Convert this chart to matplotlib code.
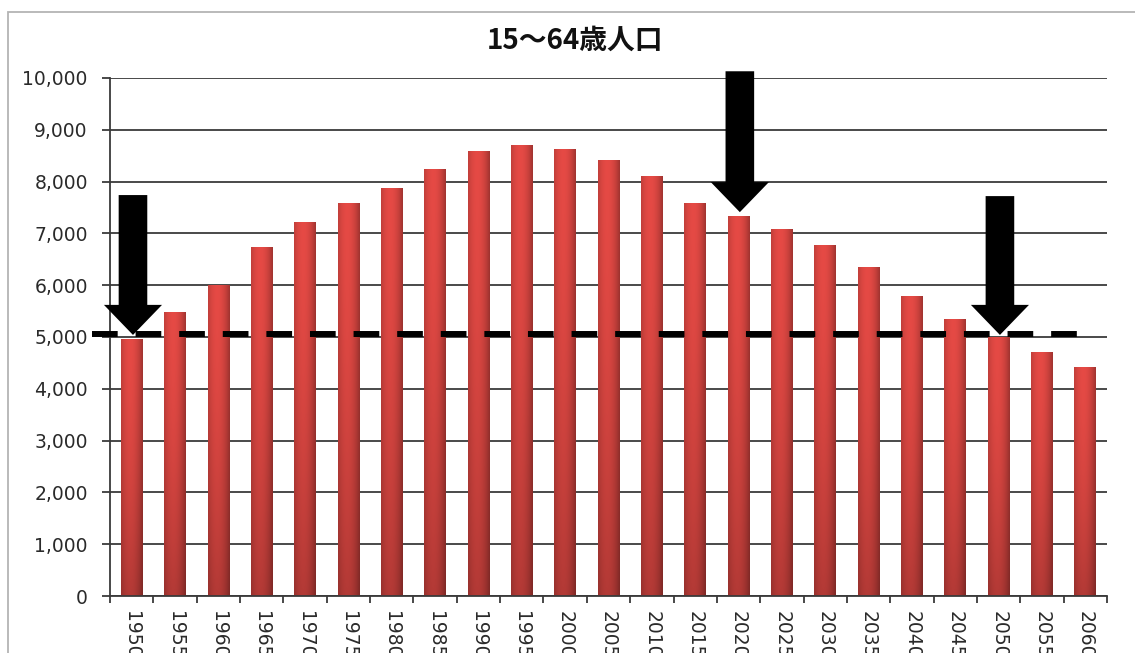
import numpy as np
import matplotlib
matplotlib.use("Agg")
import matplotlib.pyplot as plt
from matplotlib.patches import FancyArrow, Rectangle

# ---- data ----
years = ["1950", "1955", "1960", "1965", "1970", "1975", "1980", "1985", "1990",
         "1995", "2000", "2005", "2010", "2015", "2020", "2025", "2030", "2035",
         "2040", "2045", "2050", "2055", "2060"]
population = [4966, 5473, 6000, 6744, 7212, 7581, 7883, 8251, 8590, 8716, 8622,
              8409, 8103, 7592, 7341, 7084, 6773, 6343, 5787, 5353, 5001, 4706, 4418]
reference_level = 5050
title = "15～64歳人口"
y_ticks = [0, 1000, 2000, 3000, 4000, 5000, 6000, 7000, 8000, 9000, 10000]
# arrows: (category index, tail value, tip value)
arrows = [(0, 7740, 5040), (14, 10130, 7410), (20, 7720, 5040)]

W, H = 1135, 653
fig = plt.figure(figsize=(W / 100, H / 100), dpi=100)
fig.patch.set_facecolor("white")

# outer gray border of the chart area
fig.add_artist(Rectangle((8 / W, -0.05), 1.2, 1 - 12 / H + 0.05,
                         transform=fig.transFigure, fill=False,
                         edgecolor="#b4b4b4", lw=1.3))

ax = fig.add_axes([110 / W, 1 - 596 / H, (1107 - 110) / W, (596 - 78) / H])
x = np.arange(len(years))

# bars with cylinder-like shading
bars = ax.bar(x, population, width=0.5, color="#d8403d", edgecolor="none", zorder=2)
nx, ny = 40, 80
t = np.linspace(0, 1, nx)
horiz = 1 - 0.30 * (np.abs(t - 0.42) / 0.58) ** 2
s = np.linspace(0, 1, ny)
vert = (1 - 0.22 * s ** 1.6)[:, None]
top_col = np.array([0.90, 0.29, 0.27])
grad = (top_col[None, None, :] * horiz[None, :, None] * vert[:, :, None])
grad = np.clip(grad, 0, 1)
for b in bars:
    x0, w, h = b.get_x(), b.get_width(), b.get_height()
    im = ax.imshow(grad, extent=[x0, x0 + w, 0, h], aspect="auto",
                   origin="upper", zorder=2.1, interpolation="bilinear")
    im.set_clip_path(b)

ax.set_xlim(-0.5, len(years) - 0.5)
ax.set_ylim(0, 10000)
ax.set_aspect("auto")

tick_font = dict(fontfamily="DejaVu Sans", fontsize=13.5, color="#2a2a2a")

# grid & spines
ax.set_yticks(y_ticks)
ax.set_yticklabels([f"{v:,}" for v in y_ticks], **tick_font)
ax.yaxis.grid(True, color="#3a3a3a", lw=1.3, zorder=0)
ax.set_axisbelow(True)
for sp in ["top", "right"]:
    ax.spines[sp].set_visible(False)
ax.spines["left"].set_color("#3a3a3a")
ax.spines["left"].set_linewidth(1.3)
ax.spines["bottom"].set_color("#3a3a3a")
ax.spines["bottom"].set_linewidth(1.3)
ax.tick_params(axis="y", length=6, width=1.3, color="#3a3a3a", pad=10)

ax.set_xticks(x)
ax.set_xticklabels(years, rotation=270, va="top", ha="center", **tick_font)
ax.set_xticks(np.arange(-0.5, len(years)), minor=True)
ax.tick_params(axis="x", which="major", length=0, pad=11)
ax.tick_params(axis="x", which="minor", length=5, width=1.3, color="#3a3a3a")

# dashed reference line
ax.plot([-0.92, 22.13], [reference_level, reference_level], color="black",
        lw=4.3, dashes=(4.3, 3.0), solid_capstyle="butt", dash_capstyle="butt",
        clip_on=False, zorder=4)

# arrows
for ci, tail, tip in arrows:
    a = FancyArrow(ci + 0.03, tail, 0, tip - tail, width=0.66, head_width=1.34,
                   head_length=580, length_includes_head=True,
                   color="black", lw=0, zorder=5, clip_on=False)
    ax.add_patch(a)

fig.text(575 / W, 1 - 41 / H, title, ha="center", va="center", fontsize=20,
         fontweight="bold", family=["Noto Sans CJK JP", "DejaVu Sans"], color="#111111")

fig.savefig("out.png", dpi=100, facecolor="white")
